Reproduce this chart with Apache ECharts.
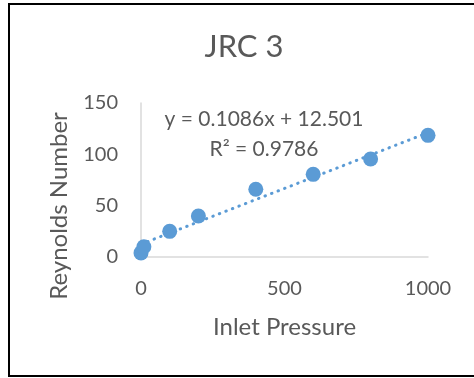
<!DOCTYPE html>
<html>
<head>
<meta charset="utf-8">
<script src="https://cdn.jsdelivr.net/npm/echarts@6/dist/echarts.min.js"></script>
<style>
html,body{margin:0;padding:0;background:#fff;}
#chart{width:474px;height:378px;}
</style>
</head>
<body>
<div id="chart"></div>
<script>
// Data
const inletPressure = [0, 10, 100, 200, 400, 600, 800, 1000];
const reynoldsNumber = [4, 10, 25, 40, 66, 80.5, 95.4, 118.5];
// Trendline as printed on the chart: y = 0.1086x + 12.501
const trendX = [0, 1000];
const trendY = [12.501, 121.101];
const xTicks = [0, 500, 1000];
const yTicks = [0, 50, 100, 150];
const titleText = 'JRC 3';
const xTitle = 'Inlet Pressure';
const yTitle = 'Reynolds Number';
const eqLine1 = 'y = 0.1086x + 12.501';
const eqLine2 = 'R² = 0.9786';

const FONT = 'Lato';
const TXT = '#595959';
const BLUE = '#5B9BD5';

const chart = echarts.init(document.getElementById('chart'), null, {renderer: 'canvas'});
chart.setOption({
  animation: false,
  backgroundColor: '#fff',
  grid: {left: 141, top: 103, width: 287, height: 154, containLabel: false},
  xAxis: {
    type: 'value', min: xTicks[0], max: xTicks[xTicks.length - 1], interval: 500,
    name: xTitle, nameLocation: 'middle', nameGap: 58,
    nameTextStyle: {fontFamily: FONT, fontSize: 24, color: TXT},
    axisLine: {show: true, lineStyle: {color: '#D9D9D9', width: 1.5}},
    axisTick: {show: false},
    splitLine: {show: false},
    axisLabel: {fontFamily: FONT, fontSize: 20, color: TXT, margin: 22, formatter: v => String(v)}
  },
  yAxis: {
    type: 'value', min: yTicks[0], max: yTicks[yTicks.length - 1], interval: 50,
    axisLine: {show: true, lineStyle: {color: '#D9D9D9', width: 1.5}},
    axisTick: {show: false},
    splitLine: {show: false},
    axisLabel: {fontFamily: FONT, fontSize: 20, color: TXT, margin: 23, formatter: v => String(v)}
  },
  series: [
    {
      type: 'line',
      data: trendX.map((x, i) => [x, trendY[i]]),
      showSymbol: false,
      z: 1,
      lineStyle: {color: BLUE, width: 3, type: [0.5, 6.5], cap: 'round'}
    },
    {
      type: 'scatter',
      data: inletPressure.map((x, i) => [x, reynoldsNumber[i]]),
      symbolSize: 15,
      z: 3,
      itemStyle: {color: BLUE, opacity: 1}
    }
  ],
  graphic: [
    {
      type: 'text', x: 244, y: 47,
      style: {text: titleText, font: '31px ' + FONT, fill: TXT, align: 'center', verticalAlign: 'middle'}
    },
    {
      type: 'text', x: 59, y: 206, rotation: Math.PI / 2,
      style: {text: yTitle, font: '24px ' + FONT, fill: TXT, align: 'center', verticalAlign: 'middle'}
    },
    {
      type: 'text', x: 264, y: 119,
      style: {text: eqLine1, font: '21px ' + FONT, fill: TXT, align: 'center', verticalAlign: 'middle'}
    },
    {
      type: 'text', x: 264, y: 149,
      style: {text: eqLine2, font: '21px ' + FONT, fill: TXT, align: 'center', verticalAlign: 'middle'}
    },
    {
      type: 'rect', shape: {x: 9, y: 4, width: 480, height: 372},
      style: {fill: 'none', stroke: '#000', lineWidth: 2}, z: 100
    }
  ]
});
</script>
</body>
</html>
